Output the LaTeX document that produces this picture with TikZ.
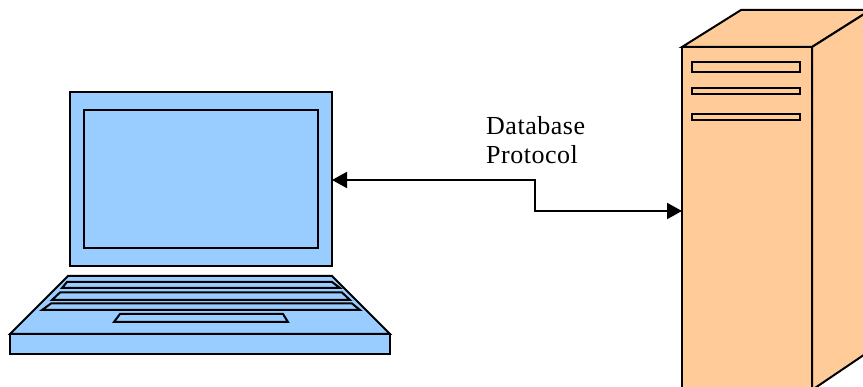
\documentclass[tikz,border=0pt]{standalone}
\usepackage{fontspec}
\setmainfont[LetterSpace=2]{Liberation Serif}
\usetikzlibrary{arrows.meta}
\definecolor{lapblue}{HTML}{99CCFF}
\definecolor{srvorange}{HTML}{FFCC99}
\tikzset{
  outline/.style={draw=black,line width=2pt,line join=miter},
  lap/.style={outline,fill=lapblue},
  srv/.style={outline,fill=srvorange},
  boxnode/.style={rectangle,inner sep=0pt,outer sep=0pt,anchor=north west},
  link/.style={draw=black,line width=2pt,{Triangle[length=15pt,width=16pt]}-{Triangle[length=15pt,width=16pt]}}
}
\begin{document}
\begin{tikzpicture}[x=1pt,y=-1pt]
\useasboundingbox (0,0) rectangle (863,387);
\clip (0,0) rectangle (863,387);
% laptop
\node[boxnode,lap,minimum width=262pt,minimum height=174pt] (screen) at (70,92) {};
\node[boxnode,lap,minimum width=234pt,minimum height=138pt] (display) at (84,110) {};
\draw[lap] (68,276) -- (332,276) -- (390,334) -- (10,334) -- cycle;
\node[boxnode,lap,minimum width=380pt,minimum height=20pt] (front) at (10,334) {};
\draw[lap] (67,282) -- (332,282) -- (340,288) -- (62,288) -- cycle;
\draw[lap] (60,292.5) -- (342,292.5) -- (350,300) -- (52,300) -- cycle;
\draw[lap] (51,303.5) -- (352,303.5) -- (360,310) -- (42,310) -- cycle;
\draw[lap] (120,314) -- (283,314) -- (288,322) -- (114,322) -- cycle;
% server
\draw[srv] (682,47) -- (741,10) -- (880,10) -- (880,4) -- (812,47) -- cycle;
\draw[srv] (812,47) -- (880,4) -- (880,344) -- (812,390) -- cycle;
\node[boxnode,srv,minimum width=130pt,minimum height=360pt] (server) at (682,47) {};
\node[boxnode,srv,minimum width=108pt,minimum height=10pt] (slota) at (692,62) {};
\node[boxnode,srv,minimum width=108pt,minimum height=6pt] (slotb) at (692,88) {};
\node[boxnode,srv,minimum width=108pt,minimum height=6pt] (slotc) at (692,114) {};
% connector
\coordinate (bend) at (535,180);
\coordinate (srvport) at (682,211);
\draw[link] (screen.east |- bend) -- (bend) -- (bend |- srvport) -- (server.west |- srvport);
% label
\node[anchor=north west,align=left,inner sep=0pt,font=\fontsize{26}{29.5}\selectfont] (proto) at (486,116) {Database\\Protocol};
\end{tikzpicture}
\end{document}
